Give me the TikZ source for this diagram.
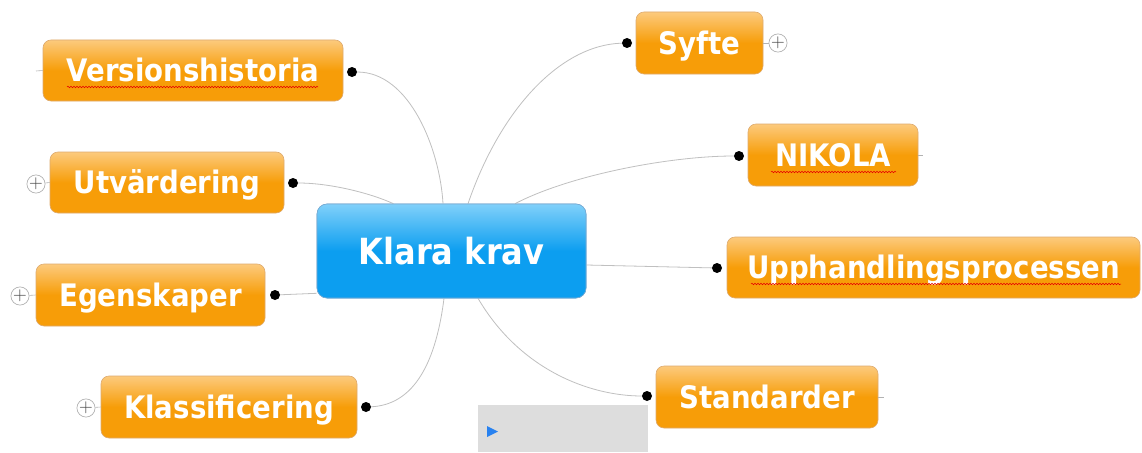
\documentclass[tikz,border=0pt]{standalone}
\usepackage{fontspec}
\newfontfamily\mmfont[FakeStretch=0.89]{DejaVu Sans}
\usetikzlibrary{decorations.pathmorphing}
\definecolor{oTop}{RGB}{252,202,125}
\definecolor{oBot}{RGB}{247,157,8}
\definecolor{oBorder}{RGB}{222,170,110}
\definecolor{bTop}{RGB}{128,208,250}
\definecolor{bBot}{RGB}{12,158,240}
\definecolor{bBorder}{RGB}{120,170,210}
\definecolor{connC}{RGB}{192,192,192}
\definecolor{panel}{RGB}{221,221,221}
\definecolor{triC}{RGB}{40,130,240}
\tikzset{
  topic/.style={rectangle, rounded corners=8pt, draw=oBorder, line width=0.6pt,
    top color=oTop, bottom color=oBot, middle color=oBot,
    text=white, font=\mmfont\bfseries\fontsize{31}{31}\selectfont,
    text height=22.5pt, text depth=0pt, inner sep=0pt},
  central/.style={rectangle, rounded corners=10pt, draw=bBorder, line width=0.6pt,
    top color=bTop, bottom color=bBot, middle color=bBot,
    text=white, font=\mmfont\bfseries\fontsize{36}{36}\selectfont,
    text height=26pt, text depth=0pt, inner sep=0pt,
    minimum width=269pt, minimum height=94pt},
  dot/.style={circle, fill=black, inner sep=0pt, minimum size=10pt},
  plusc/.style={circle, draw=gray!60, fill=white, line width=0.7pt, inner sep=0pt,
    minimum size=18pt, text=black!75, font=\fontsize{19}{19}\selectfont},
  conn/.style={draw=connC, line width=0.8pt},
  stub/.style={draw=gray!60, line width=0.6pt},
  squig/.style={draw=red!90!black, line width=0.5pt,
    decorate, decoration={snake, amplitude=0.8pt, segment length=3pt}},
}
\begin{document}
\begin{tikzpicture}[x=1pt,y=-1pt]
\useasboundingbox (0,0) rectangle (1142,452);
\fill[white] (0,0) rectangle (1142,452);

% panel at the bottom
\node[rectangle, fill=panel, inner sep=0pt, minimum width=170pt, minimum height=47pt] (panel) at (563,428.5) {};
\fill[triC] (487,426) -- (498,431.5) -- (487,437) -- cycle;

% dots
\node[dot] (vd) at (352,72) {};
\node[dot] (ud) at (293,183) {};
\node[dot] (ed) at (275,295) {};
\node[dot] (kd) at (366,407) {};
\node[dot] (sd) at (627,43) {};
\node[dot] (nd) at (739,156) {};
\node[dot] (pd) at (717,268) {};
\node[dot] (td) at (647,396) {};

% central topic placeholder for anchors
\node[central] (c) at (451.5,251) {};

% connectors
\draw[conn] ([xshift=-8.5pt]c.north) .. controls (440,150) and (410,72) .. (vd);
\draw[conn] ([xshift=-58pt]c.north) .. controls (370,193) and (330,183) .. (ud);
\draw[conn] ([yshift=5pt]c.south west) -- (ed);
\draw[conn] ([xshift=-7.5pt]c.south) .. controls (435,370) and (410,405) .. (kd);
\draw[conn] ([xshift=16.5pt]c.north) .. controls (500,110) and (560,45) .. (sd);
\draw[conn] ([xshift=63.5pt]c.north) .. controls (570,175) and (670,156) .. (nd);
\draw[conn] ([yshift=-14pt]c.east) -- (pd);
\draw[conn] ([xshift=26.5pt]c.south) .. controls (520,370) and (590,396) .. (td);

% central topic
\node[central] (c2) at (451.5,251) {Klara krav};

% topics
\node[topic, minimum width=300pt, minimum height=61pt] (ver) at (193,70.5) {Versionshistoria};
\node[topic, minimum width=234pt, minimum height=61pt] (utv) at (167,182.5) {Utvärdering};
\node[topic, minimum width=229pt, minimum height=62pt] (ege) at (150.5,295) {Egenskaper};
\node[topic, minimum width=256pt, minimum height=62pt] (kla) at (229,407) {Klassificering};
\node[topic, minimum width=127pt, minimum height=62pt] (syf) at (699.5,43) {Syfte};
\node[topic, minimum width=170pt, minimum height=62pt] (nik) at (833,155) {NIKOLA};
\node[topic, minimum width=413pt, minimum height=61pt] (upp) at (933.5,267.5) {Upphandlingsprocessen};
\node[topic, minimum width=222pt, minimum height=62pt] (sta) at (767,397) {Standarder};

% spelling underlines
\draw[squig] (67,87) -- (318,87);
\draw[squig] (771,172) -- (896,172);
\draw[squig] (751,284) -- (1121,284);

% plus buttons
\node[plusc] (sp) at (778,43) {+};
\node[plusc] (up) at (36,184) {+};
\node[plusc] (ep) at (20,296) {+};
\node[plusc] (kp) at (86,408) {+};
\draw[stub] (syf.east) -- (sp);
\draw[stub] (up) -- (utv.west);
\draw[stub] (ep) -- (ege.west);
\draw[stub] (kp) -- (kla.west);

% stubs
\coordinate (vs) at (36,71);
\coordinate (ns) at (923,155);
\coordinate (ts) at (884,397);
\draw[stub] (vs) -- (ver.west);
\draw[stub] (nik.east) -- (ns);
\draw[stub] (sta.east) -- (ts);
\end{tikzpicture}
\end{document}
